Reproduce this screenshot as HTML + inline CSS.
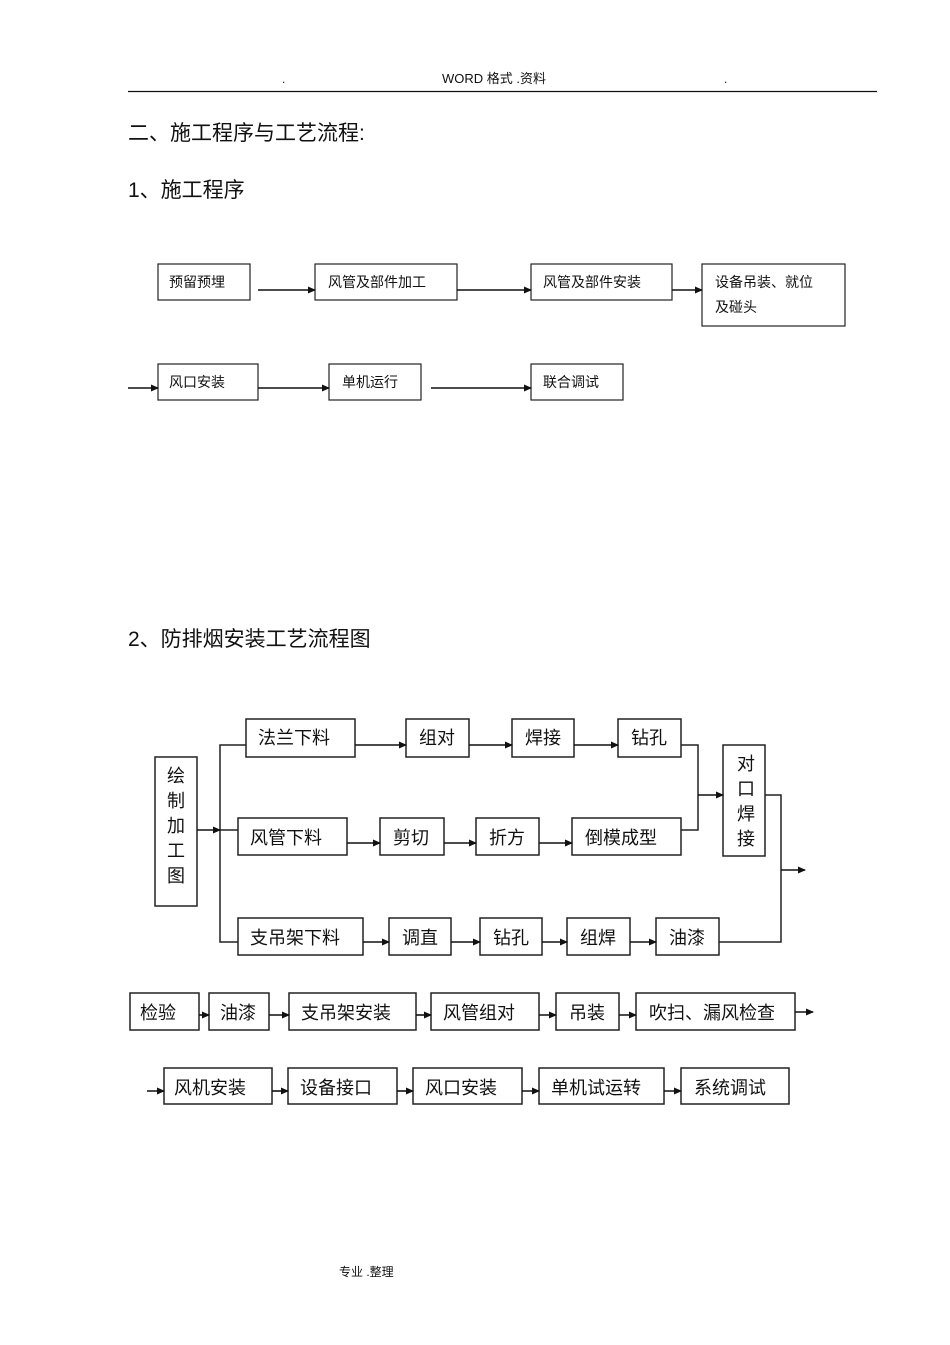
<!DOCTYPE html>
<html><head><meta charset="utf-8"><style>
body{margin:0;background:#fff;}
svg{display:block;}
text{font-family:"Liberation Sans","Noto Sans CJK SC",sans-serif;fill:#111;}
</style></head><body>
<svg width="950" height="1345" viewBox="0 0 950 1345" xmlns="http://www.w3.org/2000/svg">
<defs><marker id="a" markerWidth="8" markerHeight="8" refX="7" refY="4" orient="auto" markerUnits="userSpaceOnUse"><path d="M0,0.5 L8,4 L0,7.5 Z" fill="#111"/></marker></defs>
<text x="282" y="83" font-size="12">.</text>
<text x="494" y="83" font-size="13" text-anchor="middle">WORD 格式 .资料</text>
<text x="724" y="83" font-size="12">.</text>
<line x1="128" y1="91.5" x2="877" y2="91.5" stroke="#111" stroke-width="1.2"/>
<text x="128" y="140" font-size="21">二、施工程序与工艺流程:</text>
<text x="128" y="197" font-size="21">1、施工程序</text>
<text x="128" y="646" font-size="21">2、防排烟安装工艺流程图</text>

<g fill="none" stroke="#222" stroke-width="1.2">
<rect x="158" y="264" width="92" height="36"/>
<rect x="315" y="264" width="142" height="36"/>
<rect x="531" y="264" width="141" height="36"/>
<rect x="702" y="264" width="143" height="62"/>
<rect x="158" y="364" width="100" height="36"/>
<rect x="329" y="364" width="92" height="36"/>
<rect x="531" y="364" width="92" height="36"/>
</g>
<g stroke="#111" stroke-width="1.6" marker-end="url(#a)">
<line x1="258" y1="290" x2="315" y2="290"/>
<line x1="457" y1="290" x2="531" y2="290"/>
<line x1="672" y1="290" x2="702" y2="290"/>
<line x1="128" y1="388" x2="158" y2="388"/>
<line x1="258" y1="388" x2="329" y2="388"/>
<line x1="431" y1="388" x2="531" y2="388"/>
</g>
<g font-size="14">
<text x="169" y="287">预留预埋</text>
<text x="328" y="287">风管及部件加工</text>
<text x="543" y="287">风管及部件安装</text>
<text x="715" y="287">设备吊装、就位</text>
<text x="715" y="312">及碰头</text>
<text x="169" y="387">风口安装</text>
<text x="342" y="387">单机运行</text>
<text x="543" y="387">联合调试</text>
</g>

<g fill="none" stroke="#222" stroke-width="1.5">
<rect x="155" y="757" width="42" height="149"/>
<rect x="246" y="719" width="109" height="38"/>
<rect x="406" y="719" width="63" height="38"/>
<rect x="512" y="719" width="62" height="38"/>
<rect x="618" y="719" width="63" height="38"/>
<rect x="238" y="818" width="109" height="37"/>
<rect x="380" y="818" width="64" height="37"/>
<rect x="476" y="818" width="63" height="37"/>
<rect x="572" y="818" width="109" height="37"/>
<rect x="723" y="745" width="42" height="111"/>
<rect x="238" y="918" width="125" height="37"/>
<rect x="389" y="918" width="62" height="37"/>
<rect x="480" y="918" width="62" height="37"/>
<rect x="567" y="918" width="63" height="37"/>
<rect x="656" y="918" width="63" height="37"/>
<rect x="130" y="993" width="69" height="37"/>
<rect x="209" y="993" width="60" height="37"/>
<rect x="289" y="993" width="127" height="37"/>
<rect x="431" y="993" width="108" height="37"/>
<rect x="556" y="993" width="63" height="37"/>
<rect x="636" y="993" width="159" height="37"/>
<rect x="164" y="1068" width="108" height="36"/>
<rect x="288" y="1068" width="109" height="36"/>
<rect x="413" y="1068" width="109" height="36"/>
<rect x="539" y="1068" width="125" height="36"/>
<rect x="681" y="1068" width="108" height="36"/>
<polyline points="246,745 220,745 220,942 238,942"/>
<line x1="220" y1="830" x2="238" y2="830"/>
<polyline points="681,745 698,745 698,830 681,830"/>
<polyline points="765,795 781,795 781,942 719,942"/>
</g>
<g stroke="#111" stroke-width="1.6" marker-end="url(#a)">
<line x1="197" y1="830" x2="220" y2="830"/>
<line x1="355" y1="745" x2="406" y2="745"/>
<line x1="469" y1="745" x2="512" y2="745"/>
<line x1="574" y1="745" x2="618" y2="745"/>
<line x1="347" y1="843" x2="380" y2="843"/>
<line x1="444" y1="843" x2="476" y2="843"/>
<line x1="539" y1="843" x2="572" y2="843"/>
<line x1="698" y1="795" x2="723" y2="795"/>
<line x1="781" y1="870" x2="805" y2="870"/>
<line x1="363" y1="942" x2="389" y2="942"/>
<line x1="451" y1="942" x2="480" y2="942"/>
<line x1="542" y1="942" x2="567" y2="942"/>
<line x1="630" y1="942" x2="656" y2="942"/>
<line x1="199" y1="1015" x2="209" y2="1015"/>
<line x1="269" y1="1015" x2="289" y2="1015"/>
<line x1="416" y1="1015" x2="431" y2="1015"/>
<line x1="539" y1="1015" x2="556" y2="1015"/>
<line x1="619" y1="1015" x2="636" y2="1015"/>
<line x1="795" y1="1012" x2="813" y2="1012"/>
<line x1="147" y1="1091" x2="164" y2="1091"/>
<line x1="272" y1="1091" x2="288" y2="1091"/>
<line x1="397" y1="1091" x2="413" y2="1091"/>
<line x1="522" y1="1091" x2="539" y2="1091"/>
<line x1="664" y1="1091" x2="681" y2="1091"/>
</g>
<g font-size="18">
<text x="176" y="782" text-anchor="middle">绘</text>
<text x="176" y="807" text-anchor="middle">制</text>
<text x="176" y="832" text-anchor="middle">加</text>
<text x="176" y="857" text-anchor="middle">工</text>
<text x="176" y="882" text-anchor="middle">图</text>
<text x="746" y="770" text-anchor="middle">对</text>
<text x="746" y="795" text-anchor="middle">口</text>
<text x="746" y="820" text-anchor="middle">焊</text>
<text x="746" y="845" text-anchor="middle">接</text>
<text x="258" y="744">法兰下料</text>
<text x="419" y="744">组对</text>
<text x="525" y="744">焊接</text>
<text x="631" y="744">钻孔</text>
<text x="250" y="844">风管下料</text>
<text x="393" y="844">剪切</text>
<text x="489" y="844">折方</text>
<text x="585" y="844">倒模成型</text>
<text x="250" y="944">支吊架下料</text>
<text x="402" y="944">调直</text>
<text x="493" y="944">钻孔</text>
<text x="580" y="944">组焊</text>
<text x="669" y="944">油漆</text>
<text x="140" y="1019">检验</text>
<text x="220" y="1019">油漆</text>
<text x="301" y="1019">支吊架安装</text>
<text x="443" y="1019">风管组对</text>
<text x="569" y="1019">吊装</text>
<text x="649" y="1019">吹扫、漏风检查</text>
<text x="174" y="1094">风机安装</text>
<text x="300" y="1094">设备接口</text>
<text x="425" y="1094">风口安装</text>
<text x="551" y="1094">单机试运转</text>
<text x="694" y="1094">系统调试</text>
</g>
<text x="339" y="1276" font-size="12">专业 .整理</text>
</svg>
</body></html>
